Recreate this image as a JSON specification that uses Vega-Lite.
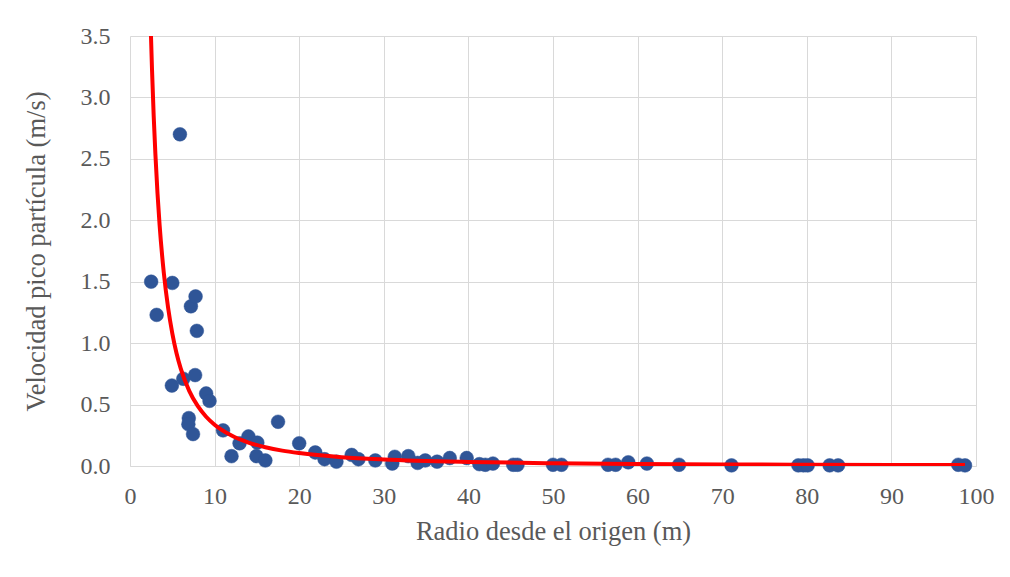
{
  "$schema": "https://vega.github.io/schema/vega-lite/v6.json",
  "width": 846,
  "height": 430,
  "autosize": {"type": "none"},
  "padding": {"left": 130, "top": 36, "right": 34, "bottom": 111},
  "background": "white",
  "config": {
    "view": {"stroke": null},
    "font": "Liberation Serif"
  },
  "datasets": {
    "pts": [
      {"r": 2.5, "v": 1.5}, {"r": 3.15, "v": 1.23}, {"r": 5.0, "v": 1.49}, {"r": 5.9, "v": 2.7},
      {"r": 7.2, "v": 1.3}, {"r": 7.75, "v": 1.38}, {"r": 7.9, "v": 1.1}, {"r": 4.95, "v": 0.655},
      {"r": 6.3, "v": 0.71}, {"r": 7.7, "v": 0.74}, {"r": 9.0, "v": 0.59}, {"r": 9.4, "v": 0.53},
      {"r": 6.95, "v": 0.39}, {"r": 6.9, "v": 0.34}, {"r": 7.45, "v": 0.26}, {"r": 11.0, "v": 0.29},
      {"r": 12.0, "v": 0.08}, {"r": 12.95, "v": 0.185}, {"r": 14.0, "v": 0.24}, {"r": 15.05, "v": 0.19},
      {"r": 14.95, "v": 0.08}, {"r": 16.0, "v": 0.045}, {"r": 17.5, "v": 0.36}, {"r": 20.0, "v": 0.185},
      {"r": 21.9, "v": 0.11}, {"r": 23.0, "v": 0.055}, {"r": 24.4, "v": 0.035}, {"r": 26.2, "v": 0.09},
      {"r": 27.0, "v": 0.055}, {"r": 29.0, "v": 0.045}, {"r": 31.0, "v": 0.02}, {"r": 31.3, "v": 0.075},
      {"r": 32.9, "v": 0.08}, {"r": 34.0, "v": 0.025}, {"r": 34.9, "v": 0.045}, {"r": 36.3, "v": 0.035},
      {"r": 37.8, "v": 0.065}, {"r": 39.8, "v": 0.065}, {"r": 41.3, "v": 0.015}, {"r": 42.0, "v": 0.01},
      {"r": 42.9, "v": 0.02}, {"r": 45.3, "v": 0.01}, {"r": 45.8, "v": 0.01}, {"r": 50.0, "v": 0.01},
      {"r": 51.0, "v": 0.01}, {"r": 56.5, "v": 0.01}, {"r": 57.4, "v": 0.01}, {"r": 58.9, "v": 0.03},
      {"r": 61.1, "v": 0.02}, {"r": 64.9, "v": 0.01}, {"r": 71.1, "v": 0.005}, {"r": 79.0, "v": 0.005},
      {"r": 79.6, "v": 0.005}, {"r": 80.1, "v": 0.005}, {"r": 82.7, "v": 0.005}, {"r": 83.7, "v": 0.005},
      {"r": 97.9, "v": 0.01}, {"r": 98.7, "v": 0.005}
    ],
    "fit": [
      {"r": 2.48, "v": 3.5}, {"r": 2.6, "v": 3.23}, {"r": 2.8, "v": 2.85}, {"r": 3.0, "v": 2.54},
      {"r": 3.25, "v": 2.22}, {"r": 3.5, "v": 1.96}, {"r": 4.0, "v": 1.57}, {"r": 4.5, "v": 1.29},
      {"r": 5.0, "v": 1.08}, {"r": 5.5, "v": 0.918}, {"r": 6.0, "v": 0.793}, {"r": 7.0, "v": 0.612},
      {"r": 8.0, "v": 0.489}, {"r": 9.0, "v": 0.401}, {"r": 10.0, "v": 0.336}, {"r": 12.0, "v": 0.248},
      {"r": 14.0, "v": 0.191}, {"r": 16.0, "v": 0.153}, {"r": 18.0, "v": 0.125}, {"r": 20.0, "v": 0.105},
      {"r": 25.0, "v": 0.0721}, {"r": 30.0, "v": 0.0531}, {"r": 40.0, "v": 0.0328}, {"r": 50.0, "v": 0.0225},
      {"r": 60.0, "v": 0.0166}, {"r": 70.0, "v": 0.0128}, {"r": 80.0, "v": 0.0102}, {"r": 90.0, "v": 0.0084},
      {"r": 98.7, "v": 0.0072}
    ]
  },
  "layer": [
    {
      "data": {"name": "pts"},
      "mark": {"type": "circle", "size": 190, "color": "#2F5597", "opacity": 1, "stroke": "#2F5597", "strokeWidth": 0.5},
      "encoding": {
        "x": {
          "field": "r", "type": "quantitative",
          "scale": {"domain": [0, 100], "nice": false, "zero": false},
          "axis": {
            "title": "Radio desde el origen (m)",
            "values": [0, 10, 20, 30, 40, 50, 60, 70, 80, 90, 100],
            "labelFont": "Liberation Serif",
            "titleFont": "Liberation Serif",
            "labelColor": "#595959",
            "titleColor": "#595959",
            "labelFontSize": 24,
            "titleFontSize": 26.5,
            "titleFontWeight": "normal",
            "gridColor": "#D9D9D9",
            "ticks": false,
            "labelPadding": 18,
            "titlePadding": 10,
            "domain": true,
            "domainColor": "#D9D9D9",
            "grid": true,
            "labelFlush": false,
            "labelOverlap": false
          }
        },
        "y": {
          "field": "v", "type": "quantitative",
          "scale": {"domain": [0, 3.5], "nice": false},
          "axis": {
            "title": "Velocidad pico partícula (m/s)",
            "values": [0, 0.5, 1, 1.5, 2, 2.5, 3, 3.5],
            "format": ".1f",
            "labelFont": "Liberation Serif",
            "titleFont": "Liberation Serif",
            "labelColor": "#595959",
            "titleColor": "#595959",
            "labelFontSize": 24,
            "titleFontSize": 26.5,
            "titleFontWeight": "normal",
            "gridColor": "#D9D9D9",
            "ticks": false,
            "labelPadding": 20,
            "titlePadding": 30,
            "domain": false,
            "grid": true,
            "labelFlush": false,
            "labelOverlap": false
          }
        }
      }
    },
    {
      "data": {"name": "fit"},
      "mark": {"type": "line", "color": "#FF0000", "strokeWidth": 4, "interpolate": "monotone", "clip": true},
      "encoding": {
        "x": {"field": "r", "type": "quantitative"},
        "y": {"field": "v", "type": "quantitative"}
      }
    }
  ]
}
